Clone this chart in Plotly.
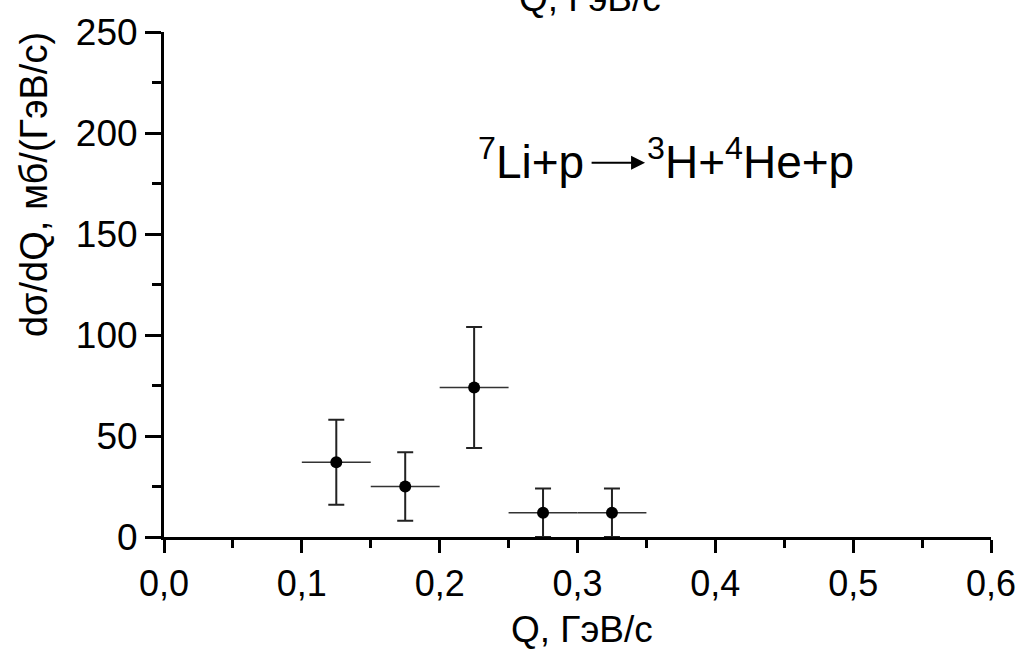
import plotly.graph_objects as go

# Data
q_values = [0.125, 0.175, 0.225, 0.275, 0.325]
q_halfwidth = [0.025, 0.025, 0.025, 0.025, 0.025]
dsigma = [37, 25, 74, 12, 12]
dsigma_err = [21, 17, 30, 12, 12]

x_ticks = [0.0, 0.1, 0.2, 0.3, 0.4, 0.5, 0.6]
y_ticks = [0, 50, 100, 150, 200, 250]

FONT = "Liberation Sans, Arial, sans-serif"

fig = go.Figure()
fig.add_trace(go.Scatter(
    x=q_values, y=dsigma, mode="markers",
    marker=dict(color="black", size=12),
    error_x=dict(type="data", array=q_halfwidth, visible=True,
                 color="#333333", thickness=1.5, width=0),
    error_y=dict(type="data", array=dsigma_err, visible=True,
                 color="#222222", thickness=2, width=8),
    showlegend=False,
))

# plot area in pixels: x 164..996, y 23..537
L, R, T, B = 164, 32, 23, 114
W, H = 1028, 651
pw, ph = W - L - R, H - T - B

def px(xp):
    return (xp - L) / pw

def py(yp):
    return (H - B - yp) / ph

fig.update_layout(
    width=W, height=H,
    margin=dict(l=L, r=R, t=T, b=B, pad=0),
    paper_bgcolor="white", plot_bgcolor="white",
    separators=", ",
    font=dict(family=FONT, size=36, color="black"),
    xaxis=dict(
        range=[0, 0.6], tickvals=x_ticks, tickformat=".1f",
        showline=True, linecolor="black", linewidth=3,
        ticks="outside", ticklen=13, tickwidth=3, tickcolor="black",
        minor=dict(dtick=0.05, ticks="outside", ticklen=8, tickwidth=3, tickcolor="black"),
        showgrid=False, zeroline=False,
        tickfont=dict(size=36, family=FONT, color="black"),
    ),
    yaxis=dict(
        range=[0, 250], tickvals=y_ticks,
        showline=True, linecolor="black", linewidth=3,
        ticks="outside", ticklen=16, tickwidth=3, tickcolor="black",
        minor=dict(dtick=25, ticks="outside", ticklen=9, tickwidth=3, tickcolor="black"),
        showgrid=False, zeroline=False,
        tickfont=dict(size=37, family=FONT, color="black"),
    ),
)

ann = []
# x axis title (bottom)
ann.append(dict(text="Q, ГэВ/с", xref="paper", yref="paper",
                x=px(585), y=py(631), xanchor="center", yanchor="middle",
                showarrow=False, font=dict(size=37, family=FONT)))
# cut-off top axis title
ann.append(dict(text="Q, ГэВ/с", xref="paper", yref="paper",
                x=px(593), y=py(12), xanchor="center", yanchor="bottom",
                showarrow=False, font=dict(size=37, family=FONT)))
# y axis title
ann.append(dict(text="dσ/dQ, мб/(ГэВ/с)", xref="paper", yref="paper",
                x=px(34), y=py(178), xanchor="center", yanchor="middle",
                textangle=-90, showarrow=False, font=dict(size=38, family=FONT)))
# reaction label
ann.append(dict(text="<sup>7</sup>Li+p", xref="paper", yref="paper",
                x=px(589), y=py(152), xanchor="right", yanchor="middle",
                showarrow=False, font=dict(size=46, family=FONT)))
ann.append(dict(text="<sup>3</sup>H+<sup>4</sup>He+p", xref="paper", yref="paper",
                x=px(648), y=py(152), xanchor="left", yanchor="middle",
                showarrow=False, font=dict(size=46, family=FONT)))
ann.append(dict(text="", xref="paper", yref="paper",
                x=px(648), y=py(156), ax=-55, ay=0,
                showarrow=True, arrowhead=2, arrowsize=1.4, arrowwidth=2,
                arrowcolor="black"))
fig.update_layout(annotations=ann)

fig.write_html("out.html")
